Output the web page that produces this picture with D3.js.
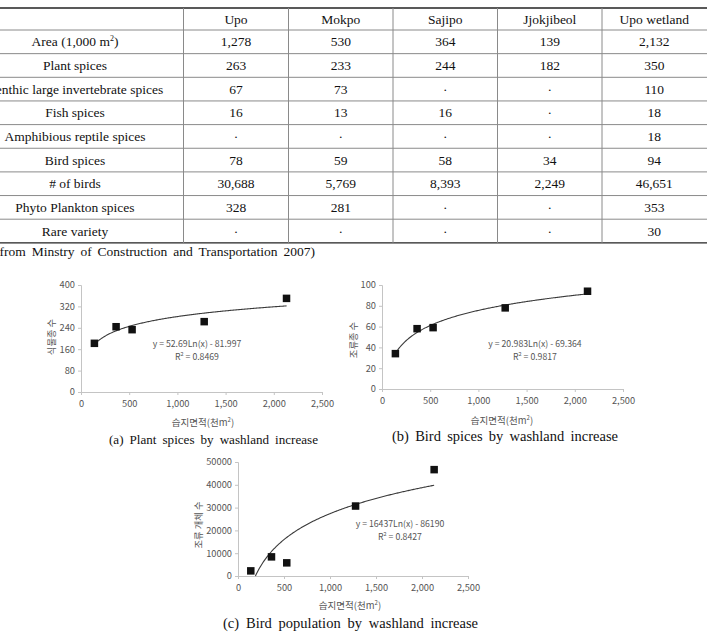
<!DOCTYPE html>
<html>
<head>
<meta charset="utf-8">
<script src="https://cdn.jsdelivr.net/npm/d3@7"></script>
<style>
  body { margin: 0; background: #fff; }
  svg { display: block; }
</style>
</head>
<body>
<svg id="fig" width="707" height="639"></svg>
<script>
// table data
const sites = ["Upo", "Mokpo", "Sajipo", "Jjokjibeol", "Upo wetland"];
const rowLabels = ["Area (1,000 m2)", "Plant spices", "Benthic large invertebrate spices", "Fish spices",
  "Amphibious reptile spices", "Bird spices", "# of birds", "Phyto Plankton spices", "Rare variety"];
const tableRows = [
  ["1,278", "530", "364", "139", "2,132"],
  ["263", "233", "244", "182", "350"],
  ["67", "73", "·", "·", "110"],
  ["16", "13", "16", "·", "18"],
  ["·", "·", "·", "·", "18"],
  ["78", "59", "58", "34", "94"],
  ["30,688", "5,769", "8,393", "2,249", "46,651"],
  ["328", "281", "·", "·", "353"],
  ["·", "·", "·", "·", "30"]
];
const sourceNote = "(from Minstry of Construction and Transportation 2007)";

// chart data (x = wetland area, 1,000 m2)
const areaK = [1278, 530, 364, 139, 2132];
const plantSpices = [263, 233, 244, 182, 350];
const birdSpices = [78, 59, 58, 34, 94];
const birdCount = [30688, 5769, 8393, 2249, 46651];

// log trend lines y = a*ln(x) + b
const plantFit = [52.69, -81.997];
const birdSpFit = [20.983, -69.364];
const birdCountFit = [16437, -86190];
const plantEq = ["y = 52.69Ln(x) - 81.997", "0.8469"];
const birdSpEq = ["y = 20.983Ln(x) - 69.364", "0.9817"];
const birdCountEq = ["y = 16437Ln(x) - 86190", "0.8427"];

const xTicks = [0, 500, 1000, 1500, 2000, 2500];
const plantTicks = [0, 80, 160, 240, 320, 400];
const birdSpTicks = [0, 20, 40, 60, 80, 100];
const birdCountTicks = [0, 10000, 20000, 30000, 40000, 50000];

const xTitle = "습지면적(천m";
const captions = ["(a) Plant spices by washland increase", "(b) Bird spices by washland increase",
  "(c) Bird population by washland increase"];

const svg = d3.select("#fig");
const serif = "'Liberation Serif', 'Times New Roman', serif";
const sans = "'Noto Sans CJK KR', 'Noto Sans', sans-serif";

// spread words so a line of text fills a given width
const spreadTo = (sel, w) => {
  const node = sel.node();
  const n = (node.textContent.match(/ /g) || []).length;
  const len = node.getComputedTextLength();
  if (n) sel.style("word-spacing", ((w - len) / n) + "px");
};

// ---------- table ----------
const colEdges = [183.5, 288.5, 393, 497.5, 602, 706.5];
const headTop = 8, headBottom = 30, rowH = 23.65;
const rowY = (i) => headBottom + rowH * i;
const table = svg.append("g").style("font-family", serif).attr("font-size", 13.5).attr("fill", "#111");

// horizontal rules
table.selectAll("line.h")
  .data(d3.range(tableRows.length))
  .enter().append("line")
    .attr("x1", 0).attr("x2", 707)
    .attr("y1", (i) => rowY(i)).attr("y2", (i) => rowY(i))
    .attr("stroke", "#8a8a8a").attr("stroke-width", 1);
table.append("line").attr("x1", 0).attr("x2", 707).attr("y1", headTop).attr("y2", headTop)
  .attr("stroke", "#222").attr("stroke-width", 1.6);
table.append("line").attr("x1", 0).attr("x2", 707)
  .attr("y1", rowY(tableRows.length)).attr("y2", rowY(tableRows.length))
  .attr("stroke", "#222").attr("stroke-width", 1.4);
// vertical rules
table.selectAll("line.v")
  .data(colEdges.slice(0, 5))
  .enter().append("line")
    .attr("x1", (d) => d).attr("x2", (d) => d)
    .attr("y1", headTop).attr("y2", rowY(tableRows.length))
    .attr("stroke", "#8a8a8a").attr("stroke-width", 1);

const colMid = (j) => (colEdges[j] + colEdges[j + 1]) / 2;
table.selectAll("text.head")
  .data(sites)
  .enter().append("text")
    .attr("x", (d, j) => colMid(j)).attr("y", (headTop + headBottom) / 2 + 4.5)
    .attr("text-anchor", "middle")
    .text((d) => d);

rowLabels.forEach((label, i) => {
  const cy = rowY(i) + rowH / 2 + 4.5;
  const t = table.append("text").attr("x", 75).attr("y", cy).attr("text-anchor", "middle");
  if (label.endsWith("m2)")) {
    t.append("tspan").text(label.slice(0, -2));
    t.append("tspan").attr("font-size", 8).attr("dy", -5).text("2");
    t.append("tspan").attr("dy", 5).text(")");
  } else {
    t.text(label);
  }
  tableRows[i].forEach((v, j) => {
    table.append("text").attr("x", colMid(j)).attr("y", cy).attr("text-anchor", "middle").text(v);
  });
});

const note = svg.append("text")
  .attr("x", -5).attr("y", 256)
  .style("font-family", serif).attr("font-size", 13.5).attr("fill", "#111")
  .text(sourceNote);
spreadTo(note, 320);

// ---------- scatter charts ----------
const drawChart = (cfg) => {
  const g = svg.append("g").style("font-family", sans);
  const x = d3.scaleLinear().domain([0, 2500]).range([cfg.left, cfg.right]);
  const y = d3.scaleLinear().domain([0, cfg.yTicks[cfg.yTicks.length - 1]]).range([cfg.bottom, cfg.top]);

  const xAxis = g.append("g")
    .attr("transform", `translate(0,${cfg.bottom})`)
    .call(d3.axisBottom(x).tickValues(xTicks).tickFormat(d3.format(",")).tickSize(3).tickPadding(5));
  const yAxis = g.append("g")
    .attr("transform", `translate(${cfg.left},0)`)
    .call(d3.axisLeft(y).tickValues(cfg.yTicks).tickFormat((d) => d).tickSize(3).tickPadding(3));
  [xAxis, yAxis].forEach((a) => {
    a.select(".domain").attr("stroke", "#c4c4c4");
    a.selectAll(".tick line").attr("stroke", "#c4c4c4");
    a.selectAll(".tick text").attr("fill", "#555").attr("font-size", 9.3).style("font-family", sans);
  });

  // trend line
  const [a, b] = cfg.fit;
  const xStart = Math.max(d3.min(cfg.xs), Math.exp(-b / a));
  const xEnd = d3.max(cfg.xs);
  const curve = d3.range(xStart, xEnd, 10).concat([xEnd]).map((v) => [v, a * Math.log(v) + b]);
  g.append("path")
    .datum(curve)
    .attr("fill", "none").attr("stroke", "#3a3a3a").attr("stroke-width", 1.1)
    .attr("d", d3.line().x((d) => x(d[0])).y((d) => y(d[1])));

  // markers
  g.selectAll("rect.pt")
    .data(cfg.xs.map((v, i) => [v, cfg.ys[i]]))
    .enter().append("rect")
      .attr("x", (d) => x(d[0]) - 3.75).attr("y", (d) => y(d[1]) - 3.75)
      .attr("width", 7.5).attr("height", 7.5)
      .attr("fill", "#111");

  // equation
  const eq = g.append("text").attr("font-size", 8.7).attr("fill", "#555").attr("text-anchor", "middle");
  eq.append("tspan").attr("x", cfg.eqX).attr("y", cfg.eqY).text(cfg.eq[0]);
  const r2 = g.append("text").attr("font-size", 8.7).attr("fill", "#555").attr("text-anchor", "middle")
    .attr("x", cfg.eqX).attr("y", cfg.eqY + 13);
  r2.append("tspan").text("R");
  r2.append("tspan").attr("font-size", 5.5).attr("dy", -4).text("2");
  r2.append("tspan").attr("dy", 4).text(" = " + cfg.eq[1]);

  // axis titles
  const xt = g.append("text").attr("x", cfg.xTitleX).attr("y", cfg.xTitleY)
    .attr("text-anchor", "middle").attr("font-size", 9.5).attr("fill", "#555");
  xt.append("tspan").text(xTitle);
  xt.append("tspan").attr("font-size", 6).attr("dy", -4).text("2");
  xt.append("tspan").attr("dy", 4).text(")");
  g.append("text")
    .attr("transform", `translate(${cfg.yTitleX},${cfg.yTitleY}) rotate(-90)`)
    .attr("text-anchor", "middle").attr("font-size", 9.3).attr("fill", "#555")
    .text(cfg.yTitle);

  // caption
  const cap = svg.append("text")
    .attr("x", cfg.capX).attr("y", cfg.capY)
    .style("font-family", serif).attr("font-size", cfg.capSize).attr("fill", "#111")
    .text(cfg.caption);
  spreadTo(cap, cfg.capW);
};

drawChart({
  xs: areaK, ys: plantSpices, fit: plantFit, eq: plantEq, yTicks: plantTicks,
  left: 81, right: 322, bottom: 392, top: 285,
  eqX: 197, eqY: 347, xTitleX: 203, xTitleY: 426, yTitle: "식물종 수", yTitleX: 55, yTitleY: 337,
  caption: captions[0], capX: 109, capY: 444, capW: 209, capSize: 13.1
});
drawChart({
  xs: areaK, ys: birdSpices, fit: birdSpFit, eq: birdSpEq, yTicks: birdSpTicks,
  left: 382, right: 623, bottom: 389, top: 285,
  eqX: 535, eqY: 347, xTitleX: 502, xTitleY: 424, yTitle: "조류종 수", yTitleX: 357, yTitleY: 340,
  caption: captions[1], capX: 392, capY: 441, capW: 226, capSize: 14.5
});
drawChart({
  xs: areaK, ys: birdCount, fit: birdCountFit, eq: birdCountEq, yTicks: birdCountTicks,
  left: 238, right: 468, bottom: 576, top: 462,
  eqX: 400, eqY: 527, xTitleX: 350, xTitleY: 609, yTitle: "조류 개체 수", yTitleX: 202, yTitleY: 525,
  caption: captions[2], capX: 223, capY: 628, capW: 255, capSize: 14.5
});
</script>
</body>
</html>
